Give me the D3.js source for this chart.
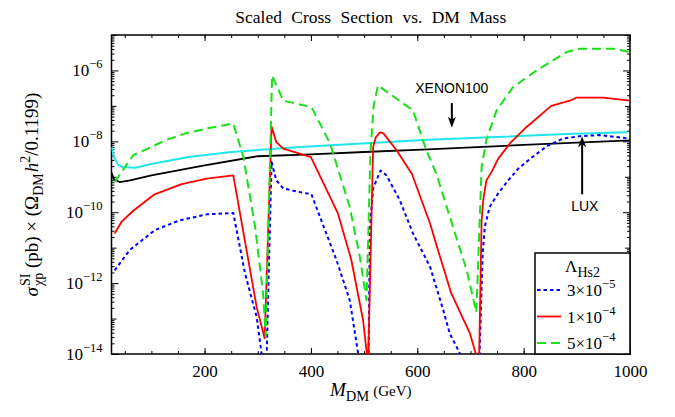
<!DOCTYPE html>
<html>
<head>
<meta charset="utf-8">
<script src="https://cdn.jsdelivr.net/npm/d3@7"></script>
<style>
	body { margin: 0; background: #fff; }
	svg { display: block; }
</style>
</head>
<body>
<svg id="svg" width="675" height="417"></svg>
<script>
"use strict";

// --- data (mass in GeV, scaled cross section in pb) ---

// LUX limit (black)
const massLux = [25, 30, 40, 60, 100, 200, 300, 400, 500, 620, 800, 1000];
const sigmaLux = [1.3e-9, 8.5e-10, 7.1e-10, 7.9e-10, 1.1e-9, 2.1e-9, 3.8e-9, 4.3e-9, 5.0e-9, 5.9e-9, 7.9e-9, 1.07e-8];

// XENON100 limit (cyan)
const massXenon = [25, 30, 37, 45, 70, 100, 170, 250, 380, 620, 880, 995];
const sigmaXenon = [6.9e-9, 3.5e-9, 2.2e-9, 1.9e-9, 1.8e-9, 2.3e-9, 3.6e-9, 5.0e-9, 6.9e-9, 1.1e-8, 1.6e-8, 1.8e-8];

// Lambda_Hs2 = 3e-5 (blue dotted)
const massBlue = [31, 59, 106, 153, 204, 254, 276, 298, 312, 316, 326, 335, 348, 379, 401, 417, 448, 473, 490, 508, 511, 517, 531, 542, 567, 592, 624, 649, 661, 684, 716, 723, 727, 736, 752, 771, 790, 812, 843, 874, 906, 943, 1000];
const sigmaBlue = [2.3e-12, 8.5e-12, 3.1e-11, 5.9e-11, 8.7e-11, 9.5e-11, 1.9e-12, 1.1e-13, 3e-15, 3e-15, 2.6e-9, 7.9e-10, 4.7e-10, 3.7e-10, 3.2e-10, 7.4e-11, 4.5e-12, 3.3e-13, 8e-15, 3e-15, 3.9e-11, 4.7e-10, 1.5e-9, 1.1e-9, 2.2e-10, 2.5e-11, 2.9e-12, 1.7e-13, 3.8e-14, 8e-15, 3e-15, 6.9e-12, 3.9e-11, 1.4e-10, 3.4e-10, 7.9e-10, 1.7e-9, 3.2e-9, 7.2e-9, 1.2e-8, 1.4e-8, 1.5e-8, 1.2e-8];

// Lambda_Hs2 = 1e-4 (red)
const massRed = [31, 44, 66, 106, 157, 204, 254, 298, 313, 326, 335, 348, 400, 451, 476, 498, 507.5, 517, 522, 530, 536, 561, 590, 624, 639, 664, 699, 716, 721, 724, 730, 740, 752, 774, 805, 852, 887, 899, 949, 1000];
const sigmaRed = [2.5e-11, 5.4e-11, 1.1e-10, 3.2e-10, 6.2e-10, 8.9e-10, 1.1e-9, 2.1e-13, 2.8e-14, 2.6e-8, 9.5e-9, 6.2e-9, 3.6e-9, 9.1e-11, 4.5e-12, 9.1e-14, 5e-15, 6.9e-9, 1.3e-8, 1.8e-8, 1.7e-8, 5.6e-9, 1.2e-9, 4.8e-11, 8.5e-12, 5.1e-13, 3.8e-14, 5e-15, 5.9e-11, 2.2e-10, 7.9e-10, 1.4e-9, 3.2e-9, 8.7e-9, 2.5e-8, 1.0e-7, 1.4e-7, 1.7e-7, 1.7e-7, 1.4e-7];

// Lambda_Hs2 = 5e-4 (green dashed)
const massGreen = [31, 66, 97, 128, 166, 204, 254, 273, 295, 310, 315, 327, 348, 379, 401, 436, 473, 492, 504.5, 512, 518, 526, 548, 592, 617, 636, 667, 693, 711, 721, 730, 749, 780, 824, 881, 906, 968, 1000];
const sigmaGreen = [7.1e-10, 4.1e-9, 6.6e-9, 1.1e-8, 1.7e-8, 2.3e-8, 3.2e-8, 3.6e-9, 3.9e-11, 5.1e-13, 3.2e-14, 7.2e-7, 1.4e-7, 1.1e-7, 9.3e-8, 8.7e-9, 1.4e-10, 5.5e-12, 3.3e-13, 5e-9, 1e-7, 3.8e-7, 2.2e-7, 7.4e-8, 5.6e-9, 1.2e-9, 3.9e-11, 2.3e-12, 1.5e-13, 1.9e-9, 1.1e-8, 7.4e-8, 3.4e-7, 1.0e-6, 3.3e-6, 4.1e-6, 4.1e-6, 3.3e-6];

const xTicks = [200, 400, 600, 800, 1000];
const yTickExps = [-14, -12, -10, -8, -6];
const legendCoef = ["3", "1", "5"];
const legendExp = ["\u22125", "\u22124", "\u22124"];

// --- layout ---
const svg = d3.select("#svg");
const plot = { left: 111.5, right: 630, top: 35, bottom: 354 };
const serif = "'Liberation Serif', 'Times New Roman', serif";
const sans = "'Liberation Sans', Arial, sans-serif";

const x = d3.scaleLinear().domain([25, 1000]).range([plot.left, plot.right]);
const y = d3.scaleLog().domain([1e-14, 1e-5]).range([plot.bottom, plot.top]);

svg.append("defs")
	.append("clipPath")
	.attr("id", "plotClip")
	.append("rect")
	.attr("x", plot.left)
	.attr("y", plot.top)
	.attr("width", plot.right - plot.left)
	.attr("height", plot.bottom - plot.top);

// lay pieces of text left to right; a piece with stack:true doesn't advance,
// so the next piece sits under it (sup over sub)
function richText(g, parts, size) {
	let cx = 0;
	let held = 0;
	parts.forEach((p) => {
		const fs = p.fs || (p.small ? size * 0.75 : size);
		const t = g
			.append("text")
			.attr("x", cx)
			.attr("y", p.dy || 0)
			.attr("font-size", fs + "px")
			.style("font-style", p.it ? "italic" : null)
			.text(p.t);
		const w = t.node().getComputedTextLength();
		if (p.stack) {
			held = w;
		} else {
			cx += Math.max(w, held) + (p.gap || 0);
			held = 0;
		}
	});
	return cx;
}

// --- axes ---
const minorX = d3.range(50, 1001, 50);
const decades = d3.range(-14, -4);
const minorY = [];
decades.forEach((e) => {
	if (e < -5) d3.range(2, 10).forEach((k) => minorY.push(k * Math.pow(10, e)));
});

function drawAxis(axisGen, transform) {
	const g = svg.append("g").attr("transform", transform).call(axisGen);
	g.select(".domain").remove();
	g.selectAll(".tick line").attr("stroke", "#000").attr("stroke-width", 1);
	return g;
}

// bottom
const xAxis = drawAxis(
	d3.axisBottom(x).tickValues(xTicks).tickSize(-6).tickPadding(11).tickFormat(d3.format("d")),
	`translate(0,${plot.bottom})`
);
xAxis.attr("font-family", serif).attr("font-size", "17px");
xAxis.selectAll(".tick text").attr("fill", "#000");
drawAxis(d3.axisBottom(x).tickValues(minorX).tickSize(-3).tickFormat(""), `translate(0,${plot.bottom})`);
// top
drawAxis(d3.axisTop(x).tickValues(xTicks).tickSize(-6).tickFormat(""), `translate(0,${plot.top})`);
drawAxis(d3.axisTop(x).tickValues(minorX).tickSize(-3).tickFormat(""), `translate(0,${plot.top})`);

// left + right, log ticks
const majorY = yTickExps.map((e) => Math.pow(10, e));
const midY = decades.filter((e) => !yTickExps.includes(e)).map((e) => Math.pow(10, e));
[d3.axisLeft, d3.axisRight].forEach((gen, i) => {
	const px = i === 0 ? plot.left : plot.right;
	drawAxis(gen(y).tickValues(majorY).tickSize(-7).tickFormat(""), `translate(${px},0)`);
	drawAxis(gen(y).tickValues(midY).tickSize(-5).tickFormat(""), `translate(${px},0)`);
	drawAxis(gen(y).tickValues(minorY).tickSize(-3).tickFormat(""), `translate(${px},0)`);
});

// y tick labels as 10^n
const yLab = svg
	.append("g")
	.attr("font-family", serif)
	.selectAll("text")
	.data(yTickExps)
	.enter()
	.append("text")
	.attr("x", plot.left - 9)
	.attr("y", (d) => y(Math.pow(10, d)) + 6)
	.attr("text-anchor", "end")
	.attr("font-size", "17px");
yLab.append("tspan").text("10");
yLab.append("tspan")
	.attr("dy", -8)
	.attr("font-size", "12.5px")
	.text((d) => "\u2212" + Math.abs(d));

// frame
svg.append("rect")
	.attr("x", plot.left)
	.attr("y", plot.top)
	.attr("width", plot.right - plot.left)
	.attr("height", plot.bottom - plot.top)
	.attr("fill", "none")
	.attr("stroke", "#000")
	.attr("stroke-width", 1.5);

// --- curves ---
const line = d3
	.line()
	.x((d) => x(d[0]))
	.y((d) => y(d[1]));

const series = [
	{ m: massXenon, s: sigmaXenon, color: "#1fe6ec", width: 2, dash: null },
	{ m: massLux, s: sigmaLux, color: "#000", width: 1.8, dash: null },
	{ m: massBlue, s: sigmaBlue, color: "#0000ff", width: 2, dash: "3.5,3" },
	{ m: massRed, s: sigmaRed, color: "#ff0000", width: 1.8, dash: null },
	{ m: massGreen, s: sigmaGreen, color: "#18e018", width: 2, dash: "9,5" },
];

svg.append("g")
	.attr("clip-path", "url(#plotClip)")
	.selectAll("path")
	.data(series)
	.enter()
	.append("path")
	.attr("d", (d) => line(d.m.map((m, i) => [m, d.s[i]])))
	.attr("fill", "none")
	.attr("stroke", (d) => d.color)
	.attr("stroke-width", (d) => d.width)
	.attr("stroke-dasharray", (d) => d.dash)
	.attr("stroke-linejoin", "round");

// --- annotations (arrows for the experiments) ---
function arrow(mx, from, to) {
	const g = svg.append("g");
	const x0 = x(mx);
	const y0 = y(from);
	const y1 = y(to);
	const dir = y1 > y0 ? 1 : -1;
	g.append("line")
		.attr("x1", x0).attr("x2", x0)
		.attr("y1", y0).attr("y2", y1 - dir * 6)
		.attr("stroke", "#000").attr("stroke-width", 2);
	g.append("path")
		.attr("d", `M${x0},${y1} L${x0 - 4},${y1 - dir * 11} L${x0},${y1 - dir * 8} L${x0 + 4},${y1 - dir * 11} Z`)
		.attr("fill", "#000");
}
svg.append("text")
	.attr("x", x(665)).attr("y", y(2.3e-7))
	.attr("text-anchor", "middle")
	.attr("font-family", sans).attr("font-size", "14px")
	.text("XENON100");
arrow(665, 1.2e-7, 2.4e-8);
svg.append("text")
	.attr("x", x(915)).attr("y", y(1.1e-10))
	.attr("text-anchor", "middle")
	.attr("font-family", sans).attr("font-size", "14px")
	.text("LUX");
arrow(910, 3.2e-10, 1.4e-8);

// --- title and axis labels ---
svg.append("text")
	.attr("x", (plot.left + plot.right) / 2)
	.attr("y", 23)
	.attr("text-anchor", "middle")
	.attr("font-family", serif)
	.attr("font-size", "17.5px")
	.attr("word-spacing", "5px")
	.text("Scaled Cross Section vs. DM Mass");

const xl = svg.append("g").attr("font-family", serif);
const xlw = richText(xl, [
	{ t: "M", it: true },
	{ t: "DM", fs: 14.5, dy: 5, gap: 4 },
	{ t: "(GeV)", fs: 15 },
], 19);
xl.attr("transform", `translate(${(plot.left + plot.right) / 2 - xlw / 2},396)`);

const yl = svg.append("g").attr("font-family", serif);
const ylw = richText(yl, [
	{ t: "\u03c3", it: true, gap: 1 },
	{ t: "SI", fs: 14, dy: -8, stack: true },
	{ t: "\u03c7p", fs: 14, dy: 5 },
	{ t: "\u00a0(pb)\u00a0\u00d7\u00a0(\u03a9" },
	{ t: "DM", fs: 14, dy: 5, gap: 1 },
	{ t: "h", it: true },
	{ t: "2", fs: 14, dy: -8 },
	{ t: "/0.1199)" },
], 19);
yl.attr("transform", `translate(38,${(plot.top + plot.bottom) / 2 + ylw / 2}) rotate(-90)`);

// --- legend ---
const legend = svg.append("g").attr("font-family", serif);
legend.append("rect")
	.attr("x", 535).attr("y", 253)
	.attr("width", plot.right - 535).attr("height", plot.bottom - 253)
	.attr("fill", "#fff").attr("stroke", "#000").attr("stroke-width", 1.5);
const lt = legend.append("g");
const ltw = richText(lt, [{ t: "\u039b" }, { t: "Hs2", fs: 14, dy: 5 }], 17);
lt.attr("transform", `translate(${582.5 - ltw / 2},272)`);

const rows = legend
	.selectAll(".row")
	.data(series.slice(2))
	.enter()
	.append("g")
	.attr("class", "row")
	.attr("transform", (d, i) => `translate(537,${290 + i * 26.5})`);
rows.append("line")
	.attr("x1", 0).attr("x2", 24)
	.attr("stroke", (d) => d.color)
	.attr("stroke-width", (d) => d.width)
	.attr("stroke-dasharray", (d) => d.dash);
const rt = rows.append("text").attr("x", 30).attr("y", 6).attr("font-size", "17px");
rt.append("tspan").text((d, i) => legendCoef[i] + "\u00d710");
rt.append("tspan").attr("dy", -8).attr("font-size", "12.5px").text((d, i) => legendExp[i]);
</script>
</body>
</html>
